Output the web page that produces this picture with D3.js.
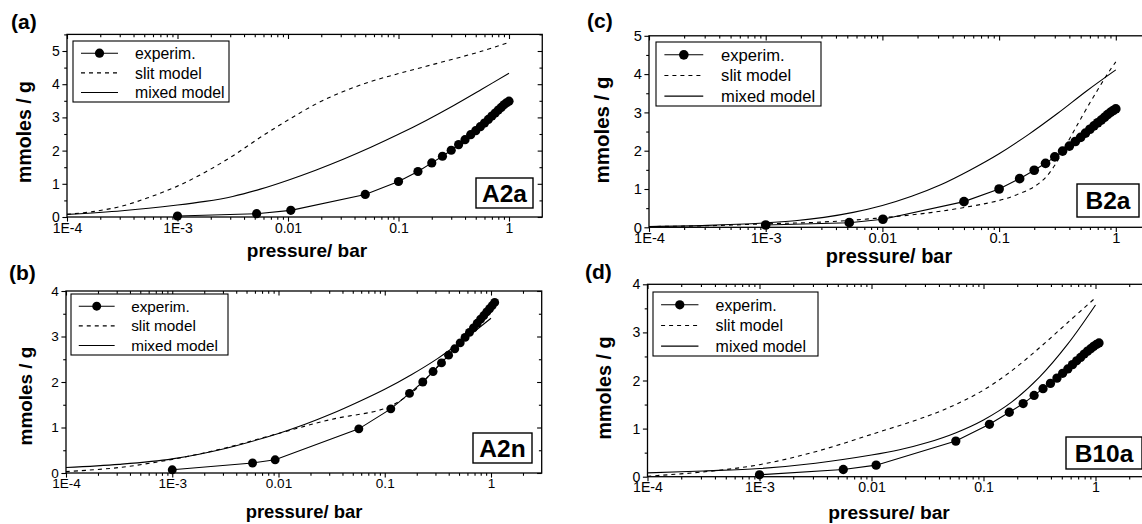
<!DOCTYPE html>
<html>
<head>
<meta charset="utf-8">
<script src="https://cdn.jsdelivr.net/npm/d3@7"></script>
<style>
  html, body { margin: 0; padding: 0; background: #fff; }
  svg { display: block; }
  text { font-family: "Liberation Sans", Arial, Helvetica, sans-serif; fill: #000; }
</style>
</head>
<body>
<svg id="chart" width="1142" height="524"></svg>
<script>
// ---- shared axis text ----
const pressureTicks = [1e-4, 1e-3, 1e-2, 1e-1, 1];
const pressureTickLabels = ["1E-4", "1E-3", "0.01", "0.1", "1"];
const legendLabels = ["experim.", "slit model", "mixed model"];
const xTitle = "pressure/ bar";
const yTitle = "mmoles / g";

// ---- sample A2a ----
const a2aExpP = [0.001, 0.0052, 0.0106, 0.05, 0.10, 0.15, 0.20, 0.25, 0.30, 0.35, 0.40, 0.45, 0.50, 0.55, 0.60, 0.65, 0.70, 0.75, 0.80, 0.85, 0.90, 0.95, 1.00];
const a2aExpV = [0.03, 0.10, 0.20, 0.68, 1.07, 1.37, 1.63, 1.83, 2.01, 2.18, 2.33, 2.48, 2.60, 2.72, 2.83, 2.94, 3.04, 3.13, 3.22, 3.30, 3.38, 3.44, 3.49];
const a2aSlitP = [1e-4, 1.78e-4, 3.16e-4, 5.62e-4, 1e-3, 1.78e-3, 3.16e-3, 5.62e-3, 0.01, 0.0178, 0.0316, 0.0562, 0.1, 0.178, 0.316, 0.562, 1.0];
const a2aSlitV = [0.08, 0.17, 0.33, 0.60, 0.93, 1.35, 1.84, 2.40, 2.92, 3.40, 3.78, 4.08, 4.32, 4.54, 4.76, 4.99, 5.26];
const a2aMixP = [1e-4, 3.16e-4, 1e-3, 1.78e-3, 3.16e-3, 5.62e-3, 0.01, 0.0178, 0.0316, 0.0562, 0.1, 0.178, 0.316, 0.562, 1.0];
const a2aMixV = [0.08, 0.19, 0.36, 0.47, 0.62, 0.84, 1.11, 1.41, 1.74, 2.10, 2.49, 2.91, 3.36, 3.84, 4.33];

// ---- sample A2n ----
const a2nExpP = [0.001, 0.0057, 0.0093, 0.057, 0.114, 0.171, 0.228, 0.285, 0.342, 0.399, 0.456, 0.513, 0.570, 0.627, 0.684, 0.741, 0.798, 0.855, 0.912, 0.969, 1.026, 1.083];
const a2nExpV = [0.07, 0.22, 0.29, 0.97, 1.41, 1.75, 2.00, 2.23, 2.42, 2.59, 2.73, 2.86, 2.98, 3.09, 3.19, 3.29, 3.38, 3.46, 3.54, 3.61, 3.68, 3.75];
const a2nSlitP = [1e-4, 3.16e-4, 1e-3, 3.16e-3, 0.01, 0.0316, 0.1, 0.178, 0.316, 0.562, 1.0];
const a2nSlitV = [0.03, 0.12, 0.30, 0.55, 0.87, 1.18, 1.42, 1.76, 2.35, 3.00, 3.58];
const a2nMixP = [1e-4, 3.16e-4, 1e-3, 3.16e-3, 0.01, 0.0178, 0.0316, 0.0562, 0.1, 0.178, 0.316, 0.562, 1.0];
const a2nMixV = [0.12, 0.19, 0.31, 0.54, 0.87, 1.07, 1.30, 1.56, 1.84, 2.16, 2.52, 2.94, 3.40];

// ---- sample B2a ----
const b2aExpP = [0.001, 0.0052, 0.0101, 0.05, 0.10, 0.15, 0.20, 0.25, 0.30, 0.35, 0.40, 0.45, 0.50, 0.55, 0.60, 0.65, 0.70, 0.75, 0.80, 0.85, 0.90, 0.95, 1.00];
const b2aExpV = [0.06, 0.12, 0.21, 0.67, 1.00, 1.27, 1.49, 1.67, 1.84, 1.99, 2.12, 2.24, 2.35, 2.46, 2.56, 2.65, 2.73, 2.80, 2.87, 2.94, 3.00, 3.05, 3.09];
const b2aSlitP = [1e-4, 3.16e-4, 1e-3, 3.16e-3, 0.01, 0.0316, 0.1, 0.15, 0.2, 0.25, 0.3, 0.35, 0.4, 0.45, 0.5, 0.6, 0.7, 0.8, 0.9, 1.0];
const b2aSlitV = [0.02, 0.04, 0.09, 0.14, 0.25, 0.42, 0.70, 0.88, 1.06, 1.30, 1.62, 1.98, 2.30, 2.58, 2.83, 3.25, 3.59, 3.88, 4.12, 4.32];
const b2aMixP = [1e-4, 3.16e-4, 1e-3, 1.78e-3, 3.16e-3, 5.62e-3, 0.01, 0.0178, 0.0316, 0.0562, 0.1, 0.178, 0.316, 0.562, 1.0];
const b2aMixV = [0.02, 0.05, 0.115, 0.17, 0.26, 0.39, 0.57, 0.81, 1.11, 1.49, 1.92, 2.42, 2.97, 3.56, 4.11];

// ---- sample B10a ----
const b10aExpP = [0.001, 0.0056, 0.011, 0.0566, 0.113, 0.170, 0.226, 0.283, 0.340, 0.396, 0.453, 0.509, 0.566, 0.623, 0.679, 0.736, 0.792, 0.849, 0.906, 0.962, 1.019, 1.075];
const b10aExpV = [0.04, 0.15, 0.24, 0.74, 1.09, 1.34, 1.52, 1.69, 1.83, 1.94, 2.05, 2.15, 2.24, 2.33, 2.41, 2.48, 2.55, 2.61, 2.66, 2.71, 2.75, 2.78];
const b10aSlitP = [1e-4, 3.16e-4, 1e-3, 3.16e-3, 0.01, 0.0316, 0.0562, 0.1, 0.178, 0.316, 0.562, 1.0];
const b10aSlitV = [0.01, 0.10, 0.25, 0.52, 0.88, 1.26, 1.50, 1.80, 2.20, 2.68, 3.20, 3.72];
const b10aMixP = [1e-4, 3.16e-4, 1e-3, 3.16e-3, 0.01, 0.0178, 0.0316, 0.0562, 0.1, 0.178, 0.316, 0.562, 1.0];
const b10aMixV = [0.08, 0.12, 0.17, 0.28, 0.45, 0.56, 0.71, 0.91, 1.18, 1.55, 2.07, 2.75, 3.57];

// ---- panel layout ----
const panels = [
  { id: "a", letter: "(a)", sample: "A2a",
    exp: d3.zip(a2aExpP, a2aExpV), slit: d3.zip(a2aSlitP, a2aSlitV), mix: d3.zip(a2aMixP, a2aMixV),
    left: 67, bottom: 217, decade: 110.5, unit: 33.2, xMax: 2, yMax: 5.5, s: 1.0,
    letterPos: [11, 29], xTitlePos: [307, 257], yTitlePos: [31, 132],
    legend: [73, 41, 156, 61], box: [476, 178, 57, 30] },
  { id: "b", letter: "(b)", sample: "A2n",
    exp: d3.zip(a2nExpP, a2nExpV), slit: d3.zip(a2nSlitP, a2nSlitV), mix: d3.zip(a2nMixP, a2nMixV),
    left: 66, bottom: 473, decade: 106.25, unit: 45.5, xMax: 3, yMax: 4, s: 0.97,
    letterPos: [9, 280], xTitlePos: [304, 518], yTitlePos: [32, 396],
    legend: [71, 294, 157, 61], box: [473, 433, 59, 30] },
  { id: "c", letter: "(c)", sample: "B2a",
    exp: d3.zip(b2aExpP, b2aExpV), slit: d3.zip(b2aSlitP, b2aSlitV), mix: d3.zip(b2aMixP, b2aMixV),
    left: 649, bottom: 227.3, decade: 116.7, unit: 38.3, xMax: 2, yMax: 5, s: 1.05,
    letterPos: [587, 28], xTitlePos: [889, 263], yTitlePos: [609, 130],
    legend: [656, 42, 165, 64], box: [1077, 184, 62, 33] },
  { id: "d", letter: "(d)", sample: "B10a",
    exp: d3.zip(b10aExpP, b10aExpV), slit: d3.zip(b10aSlitP, b10aSlitV), mix: d3.zip(b10aMixP, b10aMixV),
    left: 647.5, bottom: 476.7, decade: 112, unit: 48.1, xMax: 3, yMax: 4, s: 1.01,
    letterPos: [585, 279], xTitlePos: [889, 519], yTitlePos: [611, 388],
    legend: [653, 292, 165, 64], box: [1066, 437, 76, 32] }
];

const svg = d3.select("#chart");
const defs = svg.append("defs");

function styleAxis(sel, fontSize) {
  sel.select(".domain").remove();
  sel.selectAll(".tick line").attr("stroke", "#000").attr("stroke-width", 1.1);
  sel.selectAll(".tick text")
    .attr("font-size", fontSize)
    .attr("font-family", "Liberation Sans, Arial, sans-serif")
    .attr("fill", "#000");
}

function drawPanel(p) {
  const g = svg.append("g").attr("class", "panel-" + p.id);
  const width = p.decade * Math.log10(p.xMax / 1e-4);
  const x = d3.scaleLog().domain([1e-4, p.xMax]).range([p.left, p.left + width]);
  const y = d3.scaleLinear().domain([0, p.yMax]).range([p.bottom, p.bottom - p.unit * p.yMax]);
  const [x0, x1] = x.range();
  const [y0, y1] = y.range();
  const s = p.s;
  const tickFont = 14 * s;

  defs.append("clipPath").attr("id", "clip-" + p.id)
    .append("rect").attr("x", x0).attr("y", y1).attr("width", x1 - x0).attr("height", y0 - y1);

  // tick positions
  const minorX = [];
  for (let e = -4; e <= 0; e++) {
    for (let m = 2; m <= 9; m++) {
      const v = +(m * Math.pow(10, e)).toPrecision(3);
      if (v < p.xMax) minorX.push(v);
    }
  }
  const majorY = d3.range(0, p.yMax + 1e-9, 1);
  const minorY = d3.range(0.5, p.yMax + 1e-9, 1);
  const majLen = 4.6, minLen = 2.8;

  // bottom axis (outward ticks + labels)
  g.append("g").attr("transform", `translate(0,${y0})`)
    .call(d3.axisBottom(x).tickValues(pressureTicks).tickSize(majLen).tickPadding(1)
      .tickFormat((d, i) => pressureTickLabels[i]))
    .call(a => styleAxis(a, tickFont));
  g.append("g").attr("transform", `translate(0,${y0})`)
    .call(d3.axisBottom(x).tickValues(minorX).tickSize(minLen).tickFormat(""))
    .call(a => styleAxis(a, tickFont));
  // top axis (inward ticks)
  g.append("g").attr("transform", `translate(0,${y1})`)
    .call(d3.axisTop(x).tickValues(pressureTicks).tickSize(-majLen).tickFormat(""))
    .call(a => styleAxis(a, tickFont));
  g.append("g").attr("transform", `translate(0,${y1})`)
    .call(d3.axisTop(x).tickValues(minorX).tickSize(-minLen).tickFormat(""))
    .call(a => styleAxis(a, tickFont));
  // left axis (outward ticks + labels)
  g.append("g").attr("transform", `translate(${x0},0)`)
    .call(d3.axisLeft(y).tickValues(majorY).tickSize(majLen).tickPadding(2.5).tickFormat(d3.format("d")))
    .call(a => styleAxis(a, tickFont));
  g.append("g").attr("transform", `translate(${x0},0)`)
    .call(d3.axisLeft(y).tickValues(minorY).tickSize(minLen).tickFormat(""))
    .call(a => styleAxis(a, tickFont));
  // right axis (inward ticks)
  g.append("g").attr("transform", `translate(${x1},0)`)
    .call(d3.axisRight(y).tickValues(majorY).tickSize(-majLen).tickFormat(""))
    .call(a => styleAxis(a, tickFont));
  g.append("g").attr("transform", `translate(${x1},0)`)
    .call(d3.axisRight(y).tickValues(minorY).tickSize(-minLen).tickFormat(""))
    .call(a => styleAxis(a, tickFont));

  // frame
  g.append("rect").attr("x", x0).attr("y", y1).attr("width", x1 - x0).attr("height", y0 - y1)
    .attr("fill", "none").attr("stroke", "#000").attr("stroke-width", 1.3);

  // curves
  const plot = g.append("g").attr("clip-path", `url(#clip-${p.id})`);
  const smooth = d3.line().x(d => x(d[0])).y(d => y(d[1])).curve(d3.curveCatmullRom.alpha(0.5));
  const straight = d3.line().x(d => x(d[0])).y(d => y(d[1]));

  plot.append("path").datum(p.slit).attr("d", smooth)
    .attr("fill", "none").attr("stroke", "#000").attr("stroke-width", 1.1)
    .attr("stroke-dasharray", "4,4");
  plot.append("path").datum(p.mix).attr("d", smooth)
    .attr("fill", "none").attr("stroke", "#000").attr("stroke-width", 1.1);
  plot.append("path").datum(p.exp).attr("d", straight)
    .attr("fill", "none").attr("stroke", "#000").attr("stroke-width", 1.1);
  g.append("g").selectAll("circle").data(p.exp).join("circle")
    .attr("cx", d => x(d[0])).attr("cy", d => y(d[1])).attr("r", 4.6 * s).attr("fill", "#000");

  // legend
  const [lx, ly, lw, lh] = p.legend;
  const lg = g.append("g");
  lg.append("rect").attr("x", lx).attr("y", ly).attr("width", lw).attr("height", lh)
    .attr("fill", "#fff").attr("stroke", "#000").attr("stroke-width", 1.1);
  const rowGap = lh / 3.1;
  const legFont = 15.8 * s;
  legendLabels.forEach((lab, i) => {
    const cy = ly + rowGap * (0.62 + i);
    const sx0 = lx + 8 * s, sx1 = lx + 45 * s;
    const ln = lg.append("line").attr("x1", sx0).attr("x2", sx1).attr("y1", cy).attr("y2", cy)
      .attr("stroke", "#000").attr("stroke-width", 1.1);
    if (i === 1) ln.attr("stroke-dasharray", "4,4");
    if (i === 0) lg.append("circle").attr("cx", (sx0 + sx1) / 2).attr("cy", cy).attr("r", 4.6 * s).attr("fill", "#000");
    lg.append("text").attr("x", lx + 62 * s).attr("y", cy + legFont * 0.36)
      .attr("font-size", legFont).text(lab);
  });

  // sample label box
  const [bx, by, bw, bh] = p.box;
  g.append("rect").attr("x", bx).attr("y", by).attr("width", bw).attr("height", bh)
    .attr("fill", "#fff").attr("stroke", "#000").attr("stroke-width", 1.4);
  g.append("text").attr("x", bx + bw / 2).attr("y", by + bh / 2 + 24.5 * 0.36)
    .attr("text-anchor", "middle").attr("font-size", 24.5).attr("font-weight", "bold").text(p.sample);

  // titles
  g.append("text").attr("x", p.xTitlePos[0]).attr("y", p.xTitlePos[1])
    .attr("text-anchor", "middle").attr("font-size", 19 * s).attr("font-weight", "bold").text(xTitle);
  g.append("text").attr("transform", `translate(${p.yTitlePos[0]},${p.yTitlePos[1]}) rotate(-90)`)
    .attr("text-anchor", "middle").attr("font-size", 19.5 * s).attr("font-weight", "bold").text(yTitle);
  g.append("text").attr("x", p.letterPos[0]).attr("y", p.letterPos[1])
    .attr("font-size", 21).attr("font-weight", "bold").text(p.letter);
}

panels.forEach(drawPanel);
</script>
</body>
</html>
